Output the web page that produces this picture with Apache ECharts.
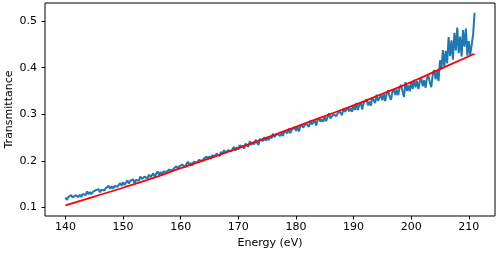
<!DOCTYPE html>
<html>
<head>
<meta charset="utf-8">
<script src="https://cdn.jsdelivr.net/npm/echarts@6/dist/echarts.min.js"></script>
<style>
  html, body { margin: 0; padding: 0; background: #fff; }
  #chart { width: 498px; height: 254px; }
</style>
</head>
<body>
<div id="chart"></div>
<script>
// measured spectrum, sampled every 0.25 eV from 140 eV
const ENERGY_START = 140;
const ENERGY_STEP = 0.25;
const MEASURED = [
  0.121, 0.116, 0.122, 0.118, 0.126, 0.121, 0.119, 0.126, 0.128, 0.122, 0.127, 0.122, 0.129, 0.127, 0.126, 0.134, 0.128, 0.133, 0.128, 0.133,
  0.130, 0.137, 0.133, 0.139, 0.132, 0.138, 0.142, 0.136, 0.141, 0.137, 0.146, 0.140, 0.145, 0.140, 0.146, 0.150, 0.144, 0.148, 0.152, 0.146,
  0.154, 0.148, 0.153, 0.158, 0.151, 0.157, 0.153, 0.160, 0.152, 0.159, 0.162, 0.157, 0.166, 0.161, 0.159, 0.166, 0.165, 0.162, 0.170, 0.165,
  0.167, 0.173, 0.166, 0.172, 0.177, 0.170, 0.176, 0.170, 0.177, 0.181, 0.176, 0.175, 0.181, 0.185, 0.178, 0.183, 0.179, 0.188, 0.183, 0.188,
  0.184, 0.192, 0.190, 0.186, 0.193, 0.198, 0.190, 0.195, 0.190, 0.198, 0.201, 0.196, 0.195, 0.202, 0.206, 0.199, 0.204, 0.200, 0.209, 0.204,
  0.210, 0.204, 0.213, 0.208, 0.206, 0.215, 0.214, 0.210, 0.219, 0.214, 0.223, 0.217, 0.214, 0.223, 0.226, 0.220, 0.225, 0.230, 0.222, 0.229,
  0.224, 0.234, 0.228, 0.233, 0.226, 0.237, 0.235, 0.230, 0.242, 0.234, 0.240, 0.235, 0.245, 0.239, 0.234, 0.247, 0.245, 0.242, 0.251, 0.243,
  0.251, 0.244, 0.253, 0.248, 0.258, 0.251, 0.247, 0.258, 0.261, 0.253, 0.259, 0.253, 0.264, 0.263, 0.259, 0.269, 0.259, 0.266, 0.262, 0.272,
  0.264, 0.274, 0.263, 0.273, 0.278, 0.271, 0.269, 0.280, 0.278, 0.273, 0.286, 0.278, 0.277, 0.287, 0.276, 0.287, 0.292, 0.284, 0.289, 0.284,
  0.295, 0.285, 0.294, 0.302, 0.291, 0.288, 0.300, 0.304, 0.296, 0.293, 0.307, 0.304, 0.298, 0.312, 0.305, 0.302, 0.314, 0.306, 0.313, 0.305,
  0.320, 0.309, 0.324, 0.309, 0.320, 0.325, 0.310, 0.324, 0.320, 0.332, 0.319, 0.327, 0.318, 0.336, 0.333, 0.324, 0.342, 0.329, 0.327, 0.341,
  0.330, 0.344, 0.328, 0.345, 0.351, 0.338, 0.331, 0.348, 0.354, 0.341, 0.353, 0.341, 0.358, 0.363, 0.349, 0.337, 0.369, 0.350, 0.362, 0.349,
  0.369, 0.354, 0.374, 0.358, 0.371, 0.354, 0.370, 0.377, 0.360, 0.373, 0.357, 0.378, 0.383, 0.368, 0.358, 0.386, 0.395, 0.375, 0.393, 0.371,
  0.416, 0.396, 0.438, 0.402, 0.436, 0.409, 0.466, 0.425, 0.459, 0.417, 0.475, 0.437, 0.486, 0.431, 0.467, 0.424, 0.481, 0.445, 0.484, 0.426,
  0.457, 0.427, 0.449, 0.471, 0.518
];

// fitted curve
const FIT_ENERGY = [140, 145, 150, 155, 160, 165, 170, 175, 180, 185, 190, 195, 200, 205, 211];
const FIT_VALUES = [0.104, 0.123, 0.142, 0.162, 0.184, 0.205, 0.227, 0.250, 0.273, 0.296, 0.319, 0.344, 0.369, 0.397, 0.430];

const X_TICKS = [140, 150, 160, 170, 180, 190, 200, 210];
const Y_TICKS = [0.1, 0.2, 0.3, 0.4, 0.5];

const measuredData = MEASURED.map((v, i) => [ENERGY_START + i * ENERGY_STEP, v]);
const fitData = FIT_ENERGY.map((e, i) => [e, FIT_VALUES[i]]);

const FONT = 'DejaVu Sans';
const chart = echarts.init(document.getElementById('chart'), null, { renderer: 'canvas' });

chart.setOption({
  animation: false,
  textStyle: { fontFamily: FONT },
  grid: {
    left: 45, right: 3, top: 3, bottom: 38,
    show: true, borderColor: '#000', borderWidth: 1,
    outerBoundsMode: 'none',
  },
  xAxis: {
    type: 'value',
    min: 136.45,
    max: 214.55,
    name: 'Energy (eV)',
    nameLocation: 'middle',
    nameGap: 22,
    nameMoveOverlap: false,
    nameTextStyle: { color: '#000', fontSize: 11, fontFamily: FONT },
    axisLine: { show: false },
    axisTick: { show: true, length: 3.5, lineStyle: { color: '#000' }, customValues: X_TICKS },
    axisLabel: { color: '#000', fontSize: 11, margin: 6, fontFamily: FONT, customValues: X_TICKS },
    splitLine: { show: false },
  },
  yAxis: {
    type: 'value',
    min: 0.0813,
    max: 0.539,
    name: 'Transmittance',
    nameLocation: 'middle',
    nameGap: 30,
    nameMoveOverlap: false,
    nameTextStyle: { color: '#000', fontSize: 11, fontFamily: FONT },
    axisLine: { show: false },
    axisTick: { show: true, length: 3.5, lineStyle: { color: '#000' }, customValues: Y_TICKS },
    axisLabel: {
      color: '#000', fontSize: 11, margin: 8, fontFamily: FONT,
      customValues: Y_TICKS,
      formatter: (v) => v.toFixed(1),
    },
    splitLine: { show: false },
  },
  series: [
    {
      name: 'Measured',
      type: 'line',
      data: measuredData,
      showSymbol: false,
      lineStyle: { color: '#1f77b4', width: 2 },
      z: 2,
    },
    {
      name: 'Fit',
      type: 'line',
      data: fitData,
      smooth: true,
      showSymbol: false,
      lineStyle: { color: '#ff0000', width: 1.8 },
      z: 3,
    },
  ],
});
</script>
</body>
</html>
